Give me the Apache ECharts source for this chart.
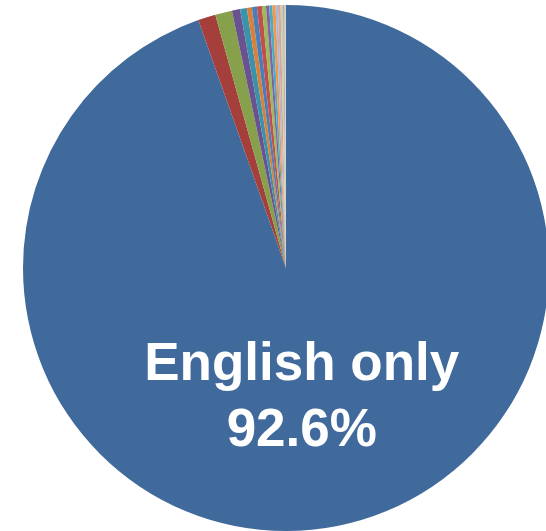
<!DOCTYPE html>
<html>
<head>
<meta charset="utf-8">
<script src="https://cdn.jsdelivr.net/npm/echarts@6/dist/echarts.min.js"></script>
<style>
html,body{margin:0;padding:0;background:#fff;}
#chart{width:546px;height:531px;}
</style>
</head>
<body>
<div id="chart"></div>
<script>
// Categories (languages spoken at home), in drawing order clockwise from 12 o'clock
const categories = [
  "English only", "Spanish", "German", "French", "Chinese", "Italian",
  "Vietnamese", "Tagalog", "Korean", "Russian", "Polish", "Arabic",
  "Portuguese", "Japanese", "Greek", "Hindi", "Persian", "Other"
];
// Percent values
const values = [
  92.6, 1.06, 1.01, 0.49, 0.41, 0.30,
  0.30, 0.30, 0.24, 0.19, 0.19, 0.19,
  0.14, 0.16, 0.14, 0.08, 0.05, 0.05
];
const colors = [
  "#406A9C", "#A43F3B", "#86A04B", "#6A5290", "#3B92AB", "#D98138",
  "#4A7EBB", "#C0504D", "#9BBB59", "#8064A2", "#4BACC6", "#F79646",
  "#A5B9D8", "#D9A3A2", "#C3D69B", "#B3A2C7", "#93CDDD", "#FAC090"
];
const labelled = ["English only"];

const chart = echarts.init(document.getElementById('chart'), null, {renderer: 'canvas'});
chart.setOption({
  animation: false,
  series: [{
    type: 'pie',
    center: [286, 268],
    radius: [0, 263],
    startAngle: 90,
    clockwise: true,
    avoidLabelOverlap: false,
    itemStyle: {borderWidth: 0},
    label: {show: false},
    labelLine: {show: false},
    emphasis: {disabled: true},
    data: categories.map((c, i) => ({
      name: c,
      value: values[i],
      itemStyle: {color: colors[i]},
      label: labelled.includes(c) ? {
        show: true,
        position: 'inside',
        formatter: '{b}\n{c}%',
        color: '#ffffff',
        fontFamily: 'Liberation Sans, Arial, sans-serif',
        fontWeight: 'bold',
        fontSize: 53,
        lineHeight: 66,
        offset: [-7, -2]
      } : {show: false}
    }))
  }]
});
</script>
</body>
</html>
